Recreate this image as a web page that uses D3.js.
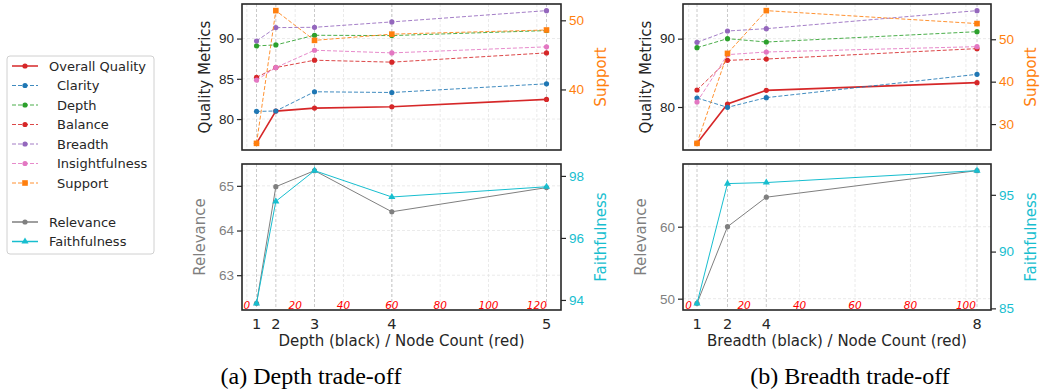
<!DOCTYPE html>
<html>
<head>
<meta charset="utf-8">
<script src="https://cdn.jsdelivr.net/npm/d3@7"></script>
<style>
  body { margin: 0; background: #fff; }
  svg { font-family: "DejaVu Sans", sans-serif; }
</style>
</head>
<body>
<div id="main"></div>
<script>
// x positions: depth / breadth labels and their node counts
const depthLabels = [1, 2, 3, 4, 5];
const depthNodes = [4, 12, 28, 60, 124];
const breadthLabels = [1, 2, 4, 8];
const breadthNodes = [3, 14, 28, 104];
const nodeTicks = [0, 20, 40, 60, 80, 100, 120];
const nodeTicksB = [0, 20, 40, 60, 80, 100];

// depth trade-off values
const depthOverall = [76.98, 80.99, 81.36, 81.53, 82.44];
const depthClarity = [80.95, 81.0, 83.39, 83.3, 84.38];
const depthDepth = [89.09, 89.21, 90.41, 90.37, 90.99];
const depthBalance = [85.17, 86.4, 87.31, 87.07, 88.22];
const depthBreadth = [89.7, 91.36, 91.4, 92.07, 93.47];
const depthInsight = [84.83, 86.4, 88.55, 88.22, 88.97];
const depthSupport = [32.2, 51.4, 47.1, 48.0, 48.6];
const depthRelevance = [62.37, 64.98, 65.34, 64.42, 64.96];
const depthFaith = [93.89, 97.18, 98.17, 97.32, 97.65];

// breadth trade-off values
const breadthOverall = [74.68, 80.44, 82.44, 83.56];
const breadthClarity = [81.32, 79.95, 81.37, 84.78];
const breadthDepth = [88.68, 90.0, 89.51, 91.02];
const breadthBalance = [82.49, 86.83, 87.02, 88.54];
const breadthBreadth = [89.46, 91.12, 91.46, 94.1];
const breadthInsight = [80.73, 87.66, 88.05, 88.83];
const breadthSupport = [25.45, 46.67, 56.75, 53.7];
const breadthRelevance = [49.35, 60.0, 64.1, 67.79];
const breadthFaith = [85.44, 95.99, 96.08, 97.13];

// tick labels
const qualTicksA = [80, 85, 90], suppTicksA = [40, 50];
const relTicksA = [63, 64, 65], faithTicksA = [94, 96, 98];
const qualTicksB = [80, 90], suppTicksB = [30, 40, 50];
const relTicksB = [50, 60], faithTicksB = [85, 90, 95];

const C = {
  red: "#d62728", blue: "#1f77b4", green: "#2ca02c", purple: "#9467bd",
  pink: "#e377c2", orange: "#ff7f0e", gray: "#7f7f7f", cyan: "#17becf"
};
const ink = "#262626";

const svg = d3.select("#main").append("svg").attr("width", 1041).attr("height", 389);

const topY = [4, 150], botY = [164, 310];

// pad the data range like matplotlib does (5%)
function padded(vals) {
  const [lo, hi] = d3.extent(vals);
  const m = (hi - lo) * 0.05;
  return [lo - m, hi + m];
}

function marker(g, type, x, y, color) {
  if (type === "square") {
    g.append("rect").attr("x", x - 2.8).attr("y", y - 2.8).attr("width", 5.6).attr("height", 5.6).attr("fill", color);
  } else if (type === "tri") {
    g.append("path").attr("d", d3.symbol(d3.symbolTriangle, 22)()).attr("transform", `translate(${x},${y})`).attr("fill", color);
  } else {
    g.append("circle").attr("cx", x).attr("cy", y).attr("r", 2.6).attr("fill", color);
  }
}

function series(g, xs, ys, x, y, color, dash, type, width) {
  const line = d3.line().x((d, i) => x(xs[i])).y(d => y(d));
  g.append("path").datum(ys).attr("d", line).attr("fill", "none")
    .attr("stroke", color).attr("stroke-width", width || 1)
    .attr("stroke-dasharray", dash ? "4,2" : null)
    .attr("opacity", dash ? 0.85 : 1);
  ys.forEach((v, i) => marker(g, type, x(xs[i]), y(v), color));
}

function yAxis(g, scale, ticks, side, xPos, color) {
  const ax = (side === "left" ? d3.axisLeft(scale) : d3.axisRight(scale))
    .tickValues(ticks).tickSize(5).tickPadding(3).tickFormat(d3.format("d"));
  const a = g.append("g").attr("transform", `translate(${xPos},0)`).call(ax);
  a.select(".domain").remove();
  a.selectAll("line").attr("stroke", ink).attr("stroke-width", 1.2);
  a.selectAll("text").attr("fill", color).style("font-size", "13.5px");
}

function axisTitle(g, text, x, yMid, color) {
  g.append("text").attr("transform", `translate(${x},${yMid}) rotate(-90)`)
    .attr("text-anchor", "middle").attr("dominant-baseline", "middle")
    .attr("fill", color).style("font-size", "15px").text(text);
}

function panel(cfg) {
  const x = d3.scaleLinear().domain(padded(cfg.nodes)).range([cfg.x0, cfg.x1]);
  const g = svg.append("g");

  const yQ = d3.scaleLinear().domain(padded([].concat(...cfg.quality.map(s => s.v)))).range([topY[1], topY[0]]);
  const yS = d3.scaleLinear().domain(padded(cfg.support)).range([topY[1], topY[0]]);
  const yR = d3.scaleLinear().domain(padded(cfg.relevance)).range([botY[1], botY[0]]);
  const yF = d3.scaleLinear().domain(padded(cfg.faith)).range([botY[1], botY[0]]);

  [topY, botY].forEach((ry, k) => {
    // light grid at node ticks
    cfg.nodeTicks.forEach(t => g.append("line").attr("x1", x(t)).attr("x2", x(t))
      .attr("y1", ry[0]).attr("y2", ry[1]).attr("stroke", "#e4e4e4").attr("stroke-dasharray", "3,2").attr("stroke-width", 0.8));
    const ticks = k === 0 ? cfg.qTicks : cfg.rTicks;
    const sc = k === 0 ? yQ : yR;
    ticks.forEach(t => g.append("line").attr("x1", cfg.x0).attr("x2", cfg.x1)
      .attr("y1", sc(t)).attr("y2", sc(t)).attr("stroke", "#e4e4e4").attr("stroke-dasharray", "3,2").attr("stroke-width", 0.8));
    // darker grid at depth/breadth positions
    cfg.nodes.forEach(n => g.append("line").attr("x1", x(n)).attr("x2", x(n))
      .attr("y1", ry[0]).attr("y2", ry[1]).attr("stroke", "#c4c4c4").attr("stroke-dasharray", "3,2").attr("stroke-width", 0.9));
  });

  // top panel lines
  cfg.quality.forEach(s => series(g, cfg.nodes, s.v, x, yQ, s.color, s.dash, "circle", s.dash ? 1 : 1.6));
  series(g, cfg.nodes, cfg.support, x, yS, C.orange, true, "square", 1);

  // bottom panel lines
  series(g, cfg.nodes, cfg.relevance, x, yR, C.gray, false, "circle", 1);
  series(g, cfg.nodes, cfg.faith, x, yF, C.cyan, false, "tri", 1);

  // frames
  [topY, botY].forEach(ry => g.append("rect").attr("x", cfg.x0).attr("y", ry[0])
    .attr("width", cfg.x1 - cfg.x0).attr("height", ry[1] - ry[0])
    .attr("fill", "none").attr("stroke", ink).attr("stroke-width", 1.6));

  yAxis(g, yQ, cfg.qTicks, "left", cfg.x0, ink);
  yAxis(g, yS, cfg.sTicks, "right", cfg.x1, C.orange);
  yAxis(g, yR, cfg.rTicks, "left", cfg.x0, C.gray);
  yAxis(g, yF, cfg.fTicks, "right", cfg.x1, C.cyan);

  axisTitle(g, "Quality Metrics", cfg.x0 - 37, 77, ink);
  axisTitle(g, "Support", cfg.x1 + 40, 77, C.orange);
  axisTitle(g, "Relevance", cfg.x0 - 42, 237, C.gray);
  axisTitle(g, "Faithfulness", cfg.x1 + 40, 237, C.cyan);

  // red node count labels inside the bottom panel
  cfg.nodeTicks.forEach(t => g.append("text").attr("x", x(t)).attr("y", 309)
    .attr("text-anchor", "middle").attr("fill", "red").style("font-size", "10.5px")
    .style("font-style", "italic").text(t));

  // black depth/breadth labels
  cfg.labels.forEach((l, i) => g.append("text").attr("x", x(cfg.nodes[i])).attr("y", 329)
    .attr("text-anchor", "middle").attr("fill", ink).style("font-size", "14.5px").text(l));

  g.append("text").attr("x", (cfg.x0 + cfg.x1) / 2).attr("y", 346)
    .attr("text-anchor", "middle").attr("fill", ink).style("font-size", "15px").text(cfg.xTitle);

  g.append("text").attr("x", cfg.capX).attr("y", 384)
    .attr("text-anchor", "middle").attr("fill", "#000")
    .style("font-family", "'Liberation Serif', 'Times New Roman', serif").style("font-size", "24px")
    .text(cfg.caption);
}

panel({
  x0: 242, x1: 561, nodes: depthNodes, labels: depthLabels, nodeTicks: nodeTicks,
  quality: [
    { v: depthOverall, color: C.red, dash: false },
    { v: depthClarity, color: C.blue, dash: true },
    { v: depthDepth, color: C.green, dash: true },
    { v: depthBalance, color: C.red, dash: true },
    { v: depthBreadth, color: C.purple, dash: true },
    { v: depthInsight, color: C.pink, dash: true }
  ],
  support: depthSupport, relevance: depthRelevance, faith: depthFaith,
  qTicks: qualTicksA, sTicks: suppTicksA, rTicks: relTicksA, fTicks: faithTicksA,
  xTitle: "Depth (black) / Node Count (red)", caption: "(a) Depth trade-off", capX: 311
});

panel({
  x0: 683, x1: 991, nodes: breadthNodes, labels: breadthLabels, nodeTicks: nodeTicksB,
  quality: [
    { v: breadthOverall, color: C.red, dash: false },
    { v: breadthClarity, color: C.blue, dash: true },
    { v: breadthDepth, color: C.green, dash: true },
    { v: breadthBalance, color: C.red, dash: true },
    { v: breadthBreadth, color: C.purple, dash: true },
    { v: breadthInsight, color: C.pink, dash: true }
  ],
  support: breadthSupport, relevance: breadthRelevance, faith: breadthFaith,
  qTicks: qualTicksB, sTicks: suppTicksB, rTicks: relTicksB, fTicks: faithTicksB,
  xTitle: "Breadth (black) / Node Count (red)", caption: "(b) Breadth trade-off", capX: 850
});

// legend
const legendItems = [
  { name: "Overall Quality", color: C.red, dash: false, type: "circle", indent: 0 },
  { name: "Clarity", color: C.blue, dash: true, type: "circle", indent: 8 },
  { name: "Depth", color: C.green, dash: true, type: "circle", indent: 8 },
  { name: "Balance", color: C.red, dash: true, type: "circle", indent: 8 },
  { name: "Breadth", color: C.purple, dash: true, type: "circle", indent: 8 },
  { name: "Insightfulness", color: C.pink, dash: true, type: "circle", indent: 8 },
  { name: "Support", color: C.orange, dash: true, type: "square", indent: 8 },
  null,
  { name: "Relevance", color: C.gray, dash: false, type: "circle", indent: 0 },
  { name: "Faithfulness", color: C.cyan, dash: false, type: "tri", indent: 0 }
];
const leg = svg.append("g");
leg.append("rect").attr("x", 7).attr("y", 56).attr("width", 147).attr("height", 198).attr("rx", 3)
  .attr("fill", "#fff").attr("stroke", "#d0d0d0").attr("stroke-width", 1);
legendItems.forEach((it, i) => {
  if (!it) return;
  const y = 66 + i * 19.5;
  leg.append("line").attr("x1", 12).attr("x2", 38).attr("y1", y).attr("y2", y)
    .attr("stroke", it.color).attr("stroke-width", it.dash ? 1 : 1.5)
    .attr("stroke-dasharray", it.dash ? "4,2" : null).attr("opacity", it.dash ? 0.85 : 1);
  marker(leg, it.type, 25, y, it.color);
  leg.append("text").attr("x", 49 + it.indent).attr("y", y).attr("dominant-baseline", "central")
    .attr("fill", ink).style("font-size", "13px").text(it.name);
});
</script>
</body>
</html>
